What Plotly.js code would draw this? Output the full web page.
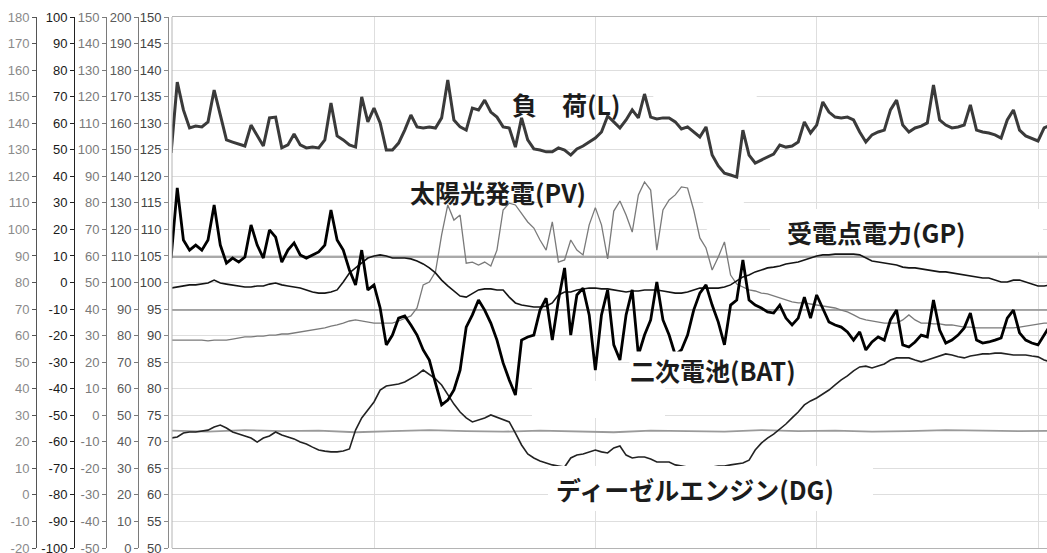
<!DOCTYPE html>
<html>
<head>
<meta charset="utf-8">
<script src="https://cdn.plot.ly/plotly-3.0.1.min.js"></script>
<style>
html,body{margin:0;padding:0;background:#fff;}
#chart{width:1047px;height:553px;}
</style>
</head>
<body>
<div id="chart"></div>
<script>
// ---------- time base (hours, 10-minute samples) ----------
const T_START = 0.5;
const T_STEP = 1 / 6;

// ---------- series (values read on the -100..100 axis) ----------
const LOAD = [
  48.8, 75.5, 65.0, 58.2, 58.9, 58.6, 60.5, 72.5, 63.1, 53.7,
  52.9, 52.2, 51.4, 59.3, 55.6, 51.4, 62.0, 62.3, 50.7, 51.8,
  55.9, 51.8, 50.7, 51.0, 50.7, 53.7, 67.6, 55.2, 53.7, 51.8,
  51.0, 69.9, 60.5, 65.7, 60.1, 49.9, 49.9, 52.5, 57.4, 63.1,
  58.6, 58.2, 58.6, 58.2, 62.0, 76.3, 61.2, 58.6, 57.4, 65.7,
  65.0, 68.7, 64.2, 62.3, 58.6, 58.2, 51.0, 62.0, 53.7, 50.3,
  49.9, 49.2, 49.2, 50.7, 49.9, 48.0, 50.3, 51.4, 52.9, 54.4,
  56.7, 62.7, 60.5, 58.2, 61.2, 65.0, 62.0, 71.0, 62.3, 61.6,
  62.0, 62.0, 60.5, 57.8, 58.6, 56.7, 54.8, 58.6, 48.0, 43.9,
  41.2, 40.5, 39.7, 57.4, 48.0, 45.0, 46.1, 47.3, 48.4, 51.8,
  51.0, 51.4, 52.9, 60.5, 56.3, 59.3, 68.0, 64.2, 62.3, 62.0,
  62.3, 61.2, 56.7, 52.9, 55.6, 56.7, 57.4, 65.0, 68.7, 59.3,
  56.7, 58.2, 58.9, 60.1, 74.4, 61.2, 59.3, 58.2, 58.6, 59.3,
  66.9, 57.4, 56.7, 56.3, 55.6, 54.4, 61.2, 65.0, 57.4, 55.2,
  54.1, 53.3, 58.2, 59.3
];
const BAT = [
  9.2, 35.6, 16.0, 12.2, 14.1, 12.2, 16.0, 29.2, 14.1, 7.3,
  9.2, 7.7, 9.6, 21.7, 14.1, 9.2, 19.8, 17.1, 7.7, 12.2,
  14.9, 10.4, 9.2, 10.4, 11.5, 14.1, 27.3, 16.0, 12.2, 4.7,
  -0.9, 12.2, -2.8, -0.9, -9.6, -23.5, -19.8, -13.4, -12.6, -16.0,
  -19.8, -25.4, -29.2, -37.9, -46.1, -44.3, -40.5, -33.0, -16.8, -12.2,
  -6.6, -10.4, -15.3, -21.7, -30.3, -36.7, -42.4, -21.7, -20.5, -19.8,
  -10.4, -5.9, -21.7, -6.6, 5.5, -19.8, -4.7, -2.1, -12.2, -33.0,
  -12.2, -2.8, -23.5, -29.2, -12.2, -2.8, -27.3, -19.8, -14.1, 0.2,
  -14.1, -19.8, -27.3, -25.4, -19.8, -10.4, -4.0, -0.9, -8.5, -14.9,
  -23.5, -8.5, -6.6, 8.5, -6.6, -8.5, -9.6, -11.1, -11.5, -8.5,
  -13.4, -16.0, -13.4, -5.5, -13.4, -4.7, -9.6, -14.9, -16.0, -16.8,
  -18.6, -21.7, -18.6, -25.4, -22.4, -20.5, -21.7, -14.1, -10.4, -23.5,
  -24.3, -22.4, -19.8, -20.5, -6.6, -17.9, -22.8, -21.7, -19.8, -17.1,
  -11.5, -21.7, -22.8, -22.4, -21.7, -20.9, -13.4, -10.4, -19.0, -21.7,
  -22.8, -23.5, -19.8, -16.0
];
const GP = [
  -2.1, -1.7, -1.3, -0.9, -0.9, -0.6, -0.2, 0.9, -0.2, -0.6,
  -0.9, -1.3, -1.7, -1.7, -1.3, -1.3, -0.6, -0.2, -0.9, -1.3,
  -1.7, -2.1, -2.8, -3.6, -4.0, -4.0, -3.6, -2.8, 0.2, 3.6,
  5.5, 7.3, 9.2, 10.0, 10.4, 10.0, 9.2, 9.2, 9.2, 8.9,
  8.1, 7.0, 5.5, 3.6, 0.9, -1.3, -3.2, -5.1, -5.5, -4.3,
  -2.8, -2.4, -2.4, -2.8, -2.8, -5.5, -7.7, -8.5, -8.9, -9.2,
  -9.2, -8.9, -7.7, -4.7, -3.6, -3.6, -2.8, -2.4, -2.1, -2.1,
  -2.4, -2.4, -2.8, -3.2, -3.6, -3.2, -3.2, -2.8, -2.8, -2.8,
  -3.2, -3.6, -4.0, -4.0, -3.6, -2.8, -2.1, -2.1, -2.1, -2.1,
  -1.7, -0.9, 0.6, 2.1, 2.8, 4.0, 4.7, 5.5, 5.8, 6.2,
  7.0, 7.3, 7.7, 8.5, 9.2, 10.0, 10.4, 10.4, 10.7, 10.7,
  10.7, 10.7, 10.4, 9.2, 8.1, 7.7, 7.3, 7.0, 6.6, 5.8,
  5.5, 5.5, 5.1, 4.7, 4.3, 4.0, 4.0, 3.6, 3.2, 2.8,
  2.4, 2.1, 1.7, 1.7, 0.9, 0.2, 0.2, 0.9, 0.9, 0.2,
  -0.6, -1.3, -1.3, -0.9
];
const PV = [
  -21.7, -21.7, -21.7, -21.7, -21.7, -21.7, -22.0, -21.7, -21.7, -21.7,
  -21.3, -20.9, -20.5, -20.5, -20.2, -20.2, -19.8, -19.8, -19.4, -19.4,
  -19.0, -18.6, -18.3, -17.9, -17.5, -17.1, -16.4, -16.0, -15.3, -14.5,
  -14.1, -14.5, -14.9, -15.3, -15.3, -15.3, -15.3, -14.5, -13.7, -12.6,
  -9.6, -0.9, 0.2, 4.0, 17.9, 29.2, 23.5, 25.4, 7.3, 7.7,
  6.6, 7.7, 6.2, 12.2, 27.3, 29.9, 29.2, 26.2, 22.8, 20.5,
  16.0, 12.2, 22.8, 7.7, 8.5, 16.0, 12.2, 10.4, 21.7, 28.2,
  21.7, 8.9, 26.9, 30.7, 25.4, 19.0, 33.0, 37.9, 34.8, 12.2,
  27.3, 31.1, 33.0, 36.0, 35.6, 27.3, 16.8, 13.0, 4.7, 9.6,
  15.3, 2.8, -0.6, -1.7, -2.8, -3.2, -4.0, -4.3, -5.1, -5.8,
  -6.6, -7.3, -7.7, -7.7, -8.1, -8.5, -8.9, -9.2, -9.6, -10.4,
  -11.1, -12.2, -13.4, -14.1, -14.5, -14.9, -15.3, -15.3, -15.3, -14.1,
  -12.2, -14.1, -15.3, -15.3, -15.6, -15.6, -16.0, -16.0, -16.4, -16.8,
  -16.8, -17.1, -17.1, -17.1, -17.1, -17.1, -17.1, -17.1, -16.8, -16.4,
  -16.0, -15.6, -15.3, -15.3
];
const DG = [
  -58.6, -58.2, -56.7, -56.3, -56.3, -55.9, -55.6, -54.4, -53.7, -54.8,
  -56.3, -57.1, -57.8, -58.6, -60.1, -58.6, -57.8, -56.3, -57.4, -58.2,
  -58.9, -60.1, -60.8, -62.0, -63.1, -63.5, -63.8, -63.8, -63.5, -62.7,
  -55.6, -51.0, -48.0, -45.0, -40.5, -39.0, -38.6, -38.2, -37.5, -36.3,
  -34.8, -33.0, -34.8, -36.3, -38.6, -42.4, -45.8, -48.8, -51.0, -52.5,
  -51.8, -51.0, -49.9, -50.7, -51.4, -52.5, -56.7, -61.2, -64.6, -66.1,
  -67.2, -68.0, -68.7, -69.1, -69.5, -66.1, -65.0, -64.6, -63.8, -63.1,
  -63.8, -64.2, -62.3, -61.6, -65.0, -66.1, -65.7, -65.7, -66.5, -67.6,
  -67.6, -67.6, -68.7, -69.1, -69.5, -69.5, -69.5, -69.5, -69.5, -69.1,
  -69.1, -68.7, -68.4, -68.0, -66.9, -63.1, -60.5, -58.6, -57.1, -55.2,
  -53.3, -51.0, -48.8, -46.1, -44.6, -43.5, -42.0, -40.5, -38.6, -36.7,
  -35.2, -33.3, -31.8, -31.5, -32.2, -31.5, -30.7, -29.2, -28.4, -28.4,
  -28.4, -29.2, -29.9, -29.2, -28.4, -27.7, -26.9, -27.3, -28.0, -28.4,
  -27.7, -27.3, -26.9, -26.9, -26.6, -26.6, -26.9, -27.3, -27.3, -27.3,
  -27.7, -28.0, -29.2, -29.9
];

// reference lines (read on the 50..150 axis)
const REF_T = [0.5, 24.5];
const REF_HIGH = [104.8, 104.8];
const REF_MID = [94.8, 94.8];
const REF_LOW_T_START = 0.5;
const REF_LOW = [72.1, 71.9, 72.2, 72.0, 72.1, 71.8, 72.0, 72.2, 72.0, 71.9,
                 72.1, 72.0, 71.8, 72.1, 72.0, 71.9, 72.2, 72.0, 72.1, 71.9,
                 72.0, 72.2, 72.1, 72.0, 72.1];

// ---------- axis tick labels ----------
const AX1_TICKS = [180,170,160,150,140,130,120,110,100,90,80,70,60,50,40,30,20,10,0,-10,-20];
const AX2_TICKS = [100,90,80,70,60,50,40,30,20,10,0,-10,-20,-30,-40,-50,-60,-70,-80,-90,-100];
const AX3_TICKS = [150,140,130,120,110,100,90,80,70,60,50,40,30,20,10,0,-10,-20,-30,-40,-50];
const AX4_TICKS = [200,190,180,170,160,150,140,130,120,110,100,90,80,70,60,50,40,30,20,10,0];
const AX5_TICKS = [150,145,140,135,130,125,120,115,110,105,100,95,90,85,80,75,70,65,60,55,50];

// ---------- labels ----------
const LABELS = {
  L: '負　荷(L)',
  PV: '太陽光発電(PV)',
  GP: '受電点電力(GP)',
  BAT: '二次電池(BAT)',
  DG: 'ディーゼルエンジン(DG)'
};

// ---------- geometry helpers (page pixels -> paper) ----------
const W = 1047, H = 553;
const TOP = 17, BOT = 548;
const PX = p => p / W;
const PY = p => (BOT - p) / (BOT - TOP);

const TIME = LOAD.map((_, i) => T_START + i * T_STEP);
const REF_LOW_T = REF_LOW.map((_, i) => REF_LOW_T_START + i);

function line(x, y, color, width, axis) {
  return {x: x, y: y, type: 'scatter', mode: 'lines', yaxis: axis, xaxis: 'x',
          line: {color: color, width: width}, hoverinfo: 'skip', showlegend: false};
}
// invisible carrier so that an extra scale axis gets drawn
function axisCarrier(axis, ticks) {
  return {x: [TIME[0]], y: [ticks[ticks.length - 1]], type: 'scatter', mode: 'markers',
          yaxis: axis, xaxis: 'x', marker: {opacity: 0, size: 1},
          hoverinfo: 'skip', showlegend: false};
}

const traces = [
  axisCarrier('y3', AX1_TICKS),
  axisCarrier('y4', AX3_TICKS),
  axisCarrier('y5', AX4_TICKS),
  line(REF_T, REF_HIGH, '#8c8c8c', 1.5, 'y'),
  line(REF_T, REF_MID, '#8c8c8c', 1.5, 'y'),
  line(REF_LOW_T, REF_LOW, '#9a9a9a', 1.8, 'y'),
  Object.assign(line(TIME, PV, '#7a7a7a', 1.3, 'y2'), {name: 'PV'}),
  Object.assign(line(TIME, DG, '#222222', 1.6, 'y2'), {name: 'DG'}),
  Object.assign(line(TIME, GP, '#151515', 1.6, 'y2'), {name: 'GP'}),
  Object.assign(line(TIME, LOAD, '#3a3a3a', 3.0, 'y2'), {name: 'L'}),
  Object.assign(line(TIME, BAT, '#000000', 2.8, 'y2'), {name: 'BAT'})
];

const TICK_FONT = 'Liberation Sans, Arial, sans-serif';
function sideAxis(pos, range, ticks, labelColor, lineColor, extra) {
  return Object.assign({
    anchor: 'free', position: pos, side: 'left', range: range,
    tickmode: 'array', tickvals: ticks, ticktext: ticks.map(String),
    ticks: 'outside', ticklen: 4, tickwidth: 1, tickcolor: lineColor,
    ticklabeloverflow: 'allow',
    showline: true, linecolor: lineColor, linewidth: 1,
    showgrid: false, zeroline: false, fixedrange: true,
    tickfont: {family: TICK_FONT, size: 13, color: labelColor}
  }, extra || {});
}

function label(text, cx, cy, bg) {
  return {
    text: '<b>' + text + '</b>', xref: 'paper', yref: 'paper',
    x: PX(cx), y: PY(cy), xanchor: 'center', yanchor: 'middle',
    showarrow: false, bgcolor: bg ? '#ffffff' : 'rgba(0,0,0,0)', borderpad: 0,
    font: {family: 'Noto Sans CJK JP, sans-serif', size: 25, color: '#1c1c1c'}
  };
}

function whiteBox(type, x0, y0, x1, y1) {
  return {type: type, xref: 'paper', yref: 'paper', layer: 'above',
          x0: PX(x0), x1: PX(x1), y0: PY(y1), y1: PY(y0),
          fillcolor: '#ffffff', line: {width: 0}};
}

const layout = {
  width: W, height: H,
  margin: {l: 0, r: 0, t: TOP, b: H - BOT},
  paper_bgcolor: '#ffffff', plot_bgcolor: '#ffffff',
  showlegend: false,
  xaxis: {
    domain: [PX(172), 1], range: [0.524, 24.244],
    tickmode: 'linear', tick0: 0, dtick: 6,
    showticklabels: false, ticks: '',
    showgrid: true, gridcolor: '#dedede', gridwidth: 1,
    zeroline: false, showline: true, mirror: true, linecolor: '#b4b4b4', linewidth: 1,
    fixedrange: true
  },
  yaxis: sideAxis(PX(168), [50, 150], AX5_TICKS, '#444444', '#8a8a8a',
                  {showgrid: true, gridcolor: '#dedede', gridwidth: 1}),
  yaxis2: sideAxis(PX(74), [-100, 100], AX2_TICKS, '#1a1a1a', '#222222', {overlaying: 'y'}),
  yaxis3: sideAxis(PX(36), [-20, 180], AX1_TICKS, '#8a8a8a', '#555555', {overlaying: 'y'}),
  yaxis4: sideAxis(PX(106), [-50, 150], AX3_TICKS, '#7a7a7a', '#7a7a7a', {overlaying: 'y'}),
  yaxis5: sideAxis(PX(138), [0, 200], AX4_TICKS, '#5a5a5a', '#7a7a7a', {overlaying: 'y'}),
  shapes: [
    {type: 'line', xref: 'paper', yref: 'paper', x0: PX(172), x1: PX(172), y0: 0, y1: 1,
     line: {color: '#b4b4b4', width: 1}},
    whiteBox('circle', 653, 82, 757, 114),
    whiteBox('circle', 700, 191, 747, 236),
    whiteBox('rect', 770, 209, 1043, 252),
    whiteBox('rect', 532, 381, 665, 418),
    whiteBox('rect', 548, 466, 873, 511)
  ],
  annotations: [
    label(LABELS.L, 566, 104, false),
    label(LABELS.PV, 498, 192, false),
    label(LABELS.GP, 876, 232, true),
    label(LABELS.BAT, 713, 370, true),
    label(LABELS.DG, 695, 489, true)
  ]
};

Plotly.newPlot('chart', traces, layout, {staticPlot: true, displayModeBar: false});
</script>
</body>
</html>
